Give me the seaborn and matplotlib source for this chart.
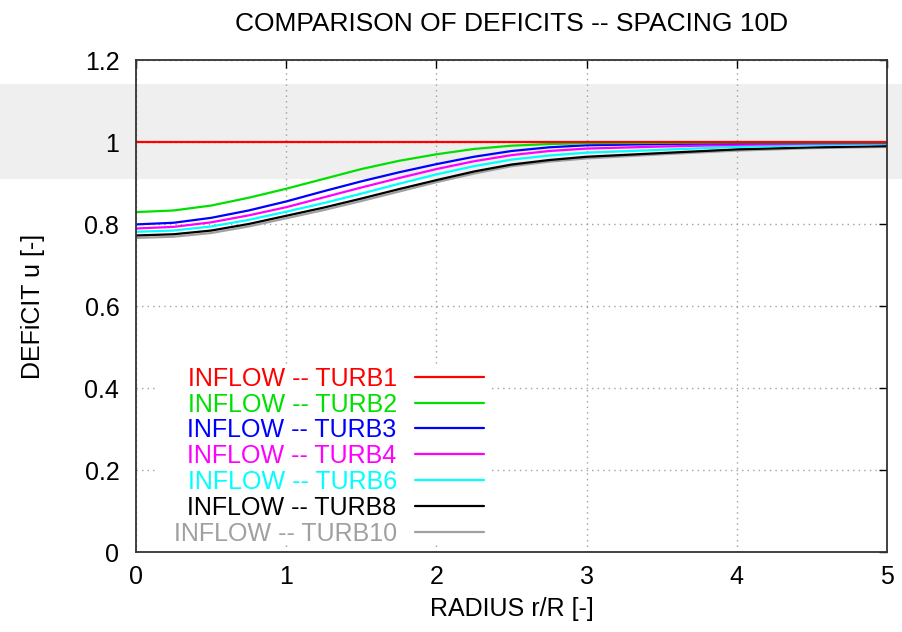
import matplotlib
matplotlib.use("Agg")
import matplotlib.pyplot as plt
import seaborn as sns
import pandas as pd
from matplotlib.patches import Rectangle
from matplotlib.ticker import FuncFormatter

# ---------------- data ----------------
radius = [0.0, 0.25, 0.5, 0.75, 1.0, 1.25, 1.5, 1.75, 2.0, 2.25, 2.5,
          2.75, 3.0, 3.5, 4.0, 4.5, 5.0]

turb1 = [1.000] * 17
turb2 = [0.829, 0.833, 0.845, 0.864, 0.886, 0.910, 0.934, 0.954, 0.970,
         0.983, 0.991, 0.995, 0.997, 0.998, 0.999, 0.999, 0.999]
turb3 = [0.799, 0.803, 0.815, 0.833, 0.855, 0.880, 0.904, 0.926, 0.946,
         0.964, 0.978, 0.987, 0.992, 0.995, 0.997, 0.998, 0.998]
turb4 = [0.789, 0.793, 0.804, 0.821, 0.841, 0.865, 0.889, 0.912, 0.934,
         0.953, 0.968, 0.978, 0.984, 0.989, 0.993, 0.996, 0.997]
turb6 = [0.781, 0.784, 0.794, 0.810, 0.830, 0.851, 0.874, 0.898, 0.921,
         0.941, 0.957, 0.967, 0.974, 0.981, 0.988, 0.992, 0.995]
turb8 = [0.772, 0.775, 0.784, 0.800, 0.820, 0.840, 0.862, 0.885, 0.907,
         0.928, 0.945, 0.956, 0.964, 0.973, 0.982, 0.987, 0.990]
turb10 = [0.766, 0.769, 0.778, 0.794, 0.814, 0.834, 0.856, 0.879, 0.902,
          0.923, 0.941, 0.952, 0.960, 0.970, 0.979, 0.985, 0.988]

labels = ["INFLOW -- TURB1", "INFLOW -- TURB2", "INFLOW -- TURB3",
          "INFLOW -- TURB4", "INFLOW -- TURB6", "INFLOW -- TURB8",
          "INFLOW -- TURB10"]
series = [turb1, turb2, turb3, turb4, turb6, turb8, turb10]
colors = ["#ff0000", "#00e000", "#0000ff", "#ff00ff", "#00ffff",
          "#000000", "#a0a0a0"]
zorders = [3.6, 3.5, 3.4, 3.3, 3.2, 3.1, 3.0]

xticks = [0, 1, 2, 3, 4, 5]
yticks = [0, 0.2, 0.4, 0.6, 0.8, 1.0, 1.2]

title = "COMPARISON OF DEFICITS -- SPACING 10D"
xlabel = "RADIUS r/R [-]"
ylabel = "DEFiCIT u [-]"

# ---------------- figure ----------------
sns.set_theme(style="white")
plt.rcParams["font.family"] = ["Liberation Sans", "DejaVu Sans"]

W, H = 903, 632
fig = plt.figure(figsize=(W / 100, H / 100), dpi=100)
fig.patch.set_facecolor("white")

# light gray horizontal band across the whole picture
fig.patches.append(Rectangle((0, 1 - 179 / H), 1, (179 - 84) / H,
                             transform=fig.transFigure, facecolor="#efefef",
                             edgecolor="none", zorder=0))

ax = fig.add_axes([136 / W, 1 - 552 / H, (887 - 136) / W, (552 - 60) / H])
ax.set_zorder(1)
ax.patch.set_alpha(0)

df = pd.DataFrame({"r": radius * len(series),
                   "u": sum(series, []),
                   "series": sum([[l] * len(radius) for l in labels], [])})

for lab, col, z in zip(labels, colors, zorders):
    sub = df[df["series"] == lab]
    sns.lineplot(data=sub, x="r", y="u", color=col, linewidth=1.6,
                 ax=ax, legend=False, zorder=z)

ax.set_xlim(0, 5)
ax.set_ylim(0, 1.2)
ax.set_xticks(xticks)
ax.set_yticks(yticks)
ax.yaxis.set_major_formatter(FuncFormatter(lambda v, p: f"{v:g}"))
ax.xaxis.set_major_formatter(FuncFormatter(lambda v, p: f"{v:g}"))

ax.grid(True, color="#a0a0a0", linestyle=(0, (1, 3)), linewidth=1.0)
ax.set_axisbelow(True)
ax.tick_params(direction="in", length=6, width=1, top=True, right=True,
               labelsize=18, colors="black")
ax.tick_params(axis="y", pad=12)
ax.tick_params(axis="x", pad=9)
for s in ax.spines.values():
    s.set_visible(True)
    s.set_color("#333333")
    s.set_linewidth(1.3)
    s.set_zorder(5)

ax.set_title(title, fontsize=19, pad=21, color="black")
ax.set_xlabel(xlabel, fontsize=18, color="black")
ax.set_ylabel(ylabel, fontsize=18, color="black")
ax.xaxis.set_label_coords(0.5, -0.092)
ax.yaxis.set_label_coords(-0.121, 0.5)

# legend (gnuplot style: opaque key box, right-aligned coloured text,
# line sample to the right)
x_px = lambda px: (px - 136) / 751
y_px = lambda py: (552 - py) / 492
ax.add_patch(Rectangle((x_px(156), y_px(543)), x_px(492) - x_px(156),
                       y_px(364) - y_px(543), transform=ax.transAxes,
                       facecolor="white", edgecolor="none", zorder=2))
row0 = 0.3563
drow = 0.0526
em_ax = 25.0 / 492
for i, (lab, col) in enumerate(zip(labels, colors)):
    yy = row0 - i * drow
    ax.text(0.3471, yy - 0.358 * em_ax, lab, transform=ax.transAxes,
            ha="right", va="baseline", fontsize=18, color=col, zorder=6)
    ax.plot([0.3715, 0.4634], [yy, yy], transform=ax.transAxes,
            color=col, linewidth=1.6, zorder=6)

fig.savefig("out.png", dpi=100, facecolor="white")
